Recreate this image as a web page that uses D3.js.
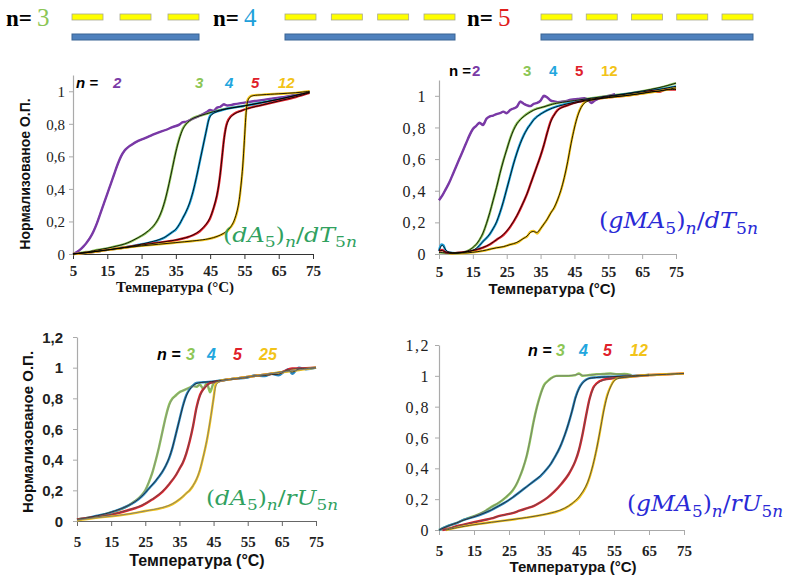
<!DOCTYPE html>
<html><head><meta charset="utf-8">
<script src="https://cdn.jsdelivr.net/npm/d3@7"></script>
<style>body{margin:0;background:#fff}svg{display:block}</style>
</head><body>
<svg id="c" width="786" height="576"></svg>
<script>
// ---------- DATA ----------
const xTicks = [5, 15, 25, 35, 45, 55, 65, 75];
const yTicksA = [0, 0.2, 0.4, 0.6, 0.8, 1];
const yTicksB = [0, 0.2, 0.4, 0.6, 0.8, 1, 1.2];
const headerCounts = [3, 4, 5];

// Panel 1: (dA5)n/dT5n
const p1_n2 = [[5,0],[6,0.01],[7,0.025],[8,0.045],[9,0.07],[10,0.1],[11,0.14],[12,0.19],[13,0.25],[14,0.31],[15,0.37],[16,0.43],[17,0.49],[18,0.55],[19,0.6],[20,0.635],[21,0.655],[22,0.67],[24,0.695],[26,0.712],[28,0.73],[30,0.748],[32,0.762],[34,0.78],[36,0.795],[37,0.81],[38,0.812],[40,0.832],[42,0.85],[44,0.872],[45,0.885],[46,0.878],[47,0.9],[48,0.905],[49,0.92],[50,0.912],[52,0.92],[55,0.93],[58,0.94],[60,0.945],[63,0.955],[65,0.96],[68,0.97],[70,0.978],[73,0.99]];
const p1_n3 = [[5,0],[8,0.01],[10,0.015],[12,0.025],[15,0.035],[18,0.05],[20,0.06],[22,0.078],[24,0.1],[26,0.125],[28,0.16],[29,0.185],[30,0.22],[31,0.27],[32,0.34],[33,0.43],[34,0.53],[35,0.63],[36,0.71],[37,0.77],[38,0.8],[39,0.82],[40,0.835],[42,0.85],[44,0.862],[46,0.875],[48,0.885],[50,0.895],[55,0.91],[60,0.93],[65,0.95],[70,0.975],[74,0.995]];
const p1_n4 = [[5,0],[10,0.01],[15,0.025],[20,0.04],[25,0.06],[30,0.085],[32,0.105],[33,0.12],[34,0.135],[35,0.15],[36,0.18],[37,0.22],[38,0.26],[39,0.31],[40,0.38],[41,0.47],[42,0.57],[43,0.67],[44,0.77],[44.5,0.82],[45,0.85],[46,0.868],[48,0.882],[50,0.893],[55,0.91],[60,0.93],[65,0.95],[70,0.975],[74,0.995]];
const p1_n5 = [[5,0],[10,0.01],[15,0.025],[20,0.04],[25,0.055],[30,0.07],[35,0.085],[38,0.1],[40,0.115],[42,0.14],[44,0.185],[45,0.22],[46,0.28],[47,0.36],[47.5,0.42],[48,0.5],[48.5,0.6],[49,0.7],[49.5,0.77],[50,0.81],[51,0.845],[52,0.862],[54,0.88],[56,0.895],[60,0.915],[65,0.94],[70,0.965],[74,0.99]];
const p1_n12 = [[5,0],[10,0.01],[15,0.025],[20,0.038],[25,0.05],[30,0.06],[35,0.07],[40,0.08],[44,0.09],[46,0.1],[48,0.115],[50,0.14],[51,0.165],[52,0.2],[53,0.27],[53.5,0.33],[54,0.42],[54.5,0.53],[55,0.7],[55.4,0.85],[55.8,0.94],[56.5,0.965],[57.5,0.975],[60,0.978],[65,0.985],[70,0.99],[74,1.0]];

// Panel 2: (gMA5)n/dT5n
const p2_n2 = [[5,0.34],[6,0.37],[7,0.41],[8,0.45],[9,0.5],[10,0.55],[11,0.6],[12,0.65],[13,0.7],[14,0.75],[15,0.79],[16,0.81],[17,0.83],[18,0.815],[19,0.855],[20,0.87],[21,0.875],[22,0.885],[23,0.89],[24,0.9],[25,0.89],[26,0.91],[27,0.92],[28,0.93],[29,0.965],[30,0.95],[31,0.94],[32,0.935],[33,0.95],[34,0.955],[35,0.97],[36,1.0],[37,0.99],[38,0.97],[39,0.965],[40,0.96],[42,0.965],[44,0.975],[46,0.98],[48,0.985],[49,0.975],[50,0.955],[51,0.97],[53,0.99],[55,1.0],[57,1.01]];
const p2_n3 = [[5,0.01],[8,0.005],[10,0.005],[12,0.01],[13,0.015],[14,0.025],[15,0.04],[16,0.06],[17,0.09],[18,0.13],[19,0.19],[20,0.26],[21,0.34],[22,0.42],[23,0.51],[24,0.59],[25,0.66],[26,0.73],[27,0.785],[28,0.825],[29,0.85],[30,0.87],[32,0.9],[34,0.92],[36,0.93],[38,0.945],[40,0.955],[45,0.97],[50,0.985],[55,1.0],[60,1.012],[65,1.03],[70,1.05],[75,1.08]];
const p2_n4 = [[5,0.02],[5.7,0.06],[6.3,0.055],[7,0.02],[8,0.01],[10,0.005],[12,0.01],[14,0.015],[16,0.03],[18,0.08],[19,0.1],[20,0.125],[21,0.16],[22,0.2],[23,0.26],[24,0.33],[25,0.41],[26,0.49],[27,0.57],[28,0.64],[29,0.7],[30,0.75],[31,0.79],[32,0.82],[33,0.85],[34,0.87],[35,0.885],[37,0.91],[40,0.935],[45,0.96],[50,0.98],[55,0.995],[60,1.01],[65,1.025],[70,1.04],[75,1.06]];
const p2_n5 = [[5,0.02],[6,0.025],[7,0.01],[9,0.005],[12,0.01],[15,0.02],[18,0.04],[20,0.06],[22,0.09],[24,0.12],[26,0.17],[28,0.24],[30,0.33],[31,0.38],[32,0.44],[33,0.5],[34,0.56],[35,0.62],[36,0.69],[37,0.77],[38,0.84],[39,0.88],[40,0.91],[41,0.925],[43,0.94],[45,0.955],[50,0.975],[55,0.99],[60,1.0],[65,1.015],[68,1.03],[70,1.025],[72,1.04],[75,1.04]];
const p2_n12 = [[8,0.005],[12,0.005],[15,0.01],[18,0.02],[20,0.03],[22,0.04],[24,0.045],[26,0.06],[28,0.07],[30,0.1],[31,0.11],[32,0.14],[33,0.145],[34,0.13],[35,0.16],[36,0.19],[37,0.22],[38,0.26],[39,0.29],[40,0.34],[41,0.4],[42,0.48],[43,0.58],[44,0.7],[45,0.8],[46,0.88],[47,0.93],[48,0.96],[50,0.975],[55,0.99],[60,1.0],[65,1.015],[70,1.03],[75,1.05]];

// Panel 3: (dA5)n/rU5n
const p3_n3 = [[5,0.01],[8,0.02],[11,0.03],[14,0.05],[17,0.07],[20,0.1],[22,0.13],[24,0.17],[25,0.2],[26,0.25],[27,0.31],[28,0.39],[29,0.48],[30,0.58],[31,0.68],[32,0.76],[33,0.8],[34,0.82],[35,0.84],[36,0.85],[37,0.86],[38,0.87],[39,0.88],[40,0.875],[41,0.89],[42,0.86],[43,0.9],[44,0.84],[45,0.9],[46,0.91],[50,0.925],[55,0.94],[60,0.955],[65,0.97],[70,0.99],[75,1.0]];
const p3_n4 = [[5,0.01],[8,0.02],[11,0.035],[14,0.05],[16,0.065],[18,0.08],[20,0.1],[22,0.125],[24,0.16],[26,0.21],[28,0.26],[30,0.32],[31,0.36],[32,0.41],[33,0.48],[34,0.57],[35,0.66],[36,0.75],[37,0.82],[38,0.86],[39,0.885],[40,0.9],[42,0.905],[45,0.91],[50,0.925],[55,0.935],[57,0.95],[60,0.945],[62,0.96],[64,0.95],[66,0.98],[67,0.99],[68,0.96],[70,1.0],[72,0.99],[75,1.0]];
const p3_n5 = [[5,0.01],[10,0.025],[15,0.04],[20,0.07],[24,0.1],[27,0.14],[30,0.19],[32,0.24],[34,0.3],[35,0.34],[36,0.38],[37,0.44],[38,0.52],[39,0.62],[40,0.74],[41,0.82],[42,0.86],[43,0.885],[44,0.9],[46,0.91],[50,0.925],[55,0.94],[60,0.955],[65,0.97],[68,0.995],[70,0.995],[75,1.0]];
const p3_n25 = [[5,0.005],[10,0.02],[15,0.03],[20,0.045],[25,0.065],[30,0.085],[33,0.11],[35,0.14],[37,0.18],[38,0.2],[39,0.23],[40,0.27],[41,0.33],[42,0.42],[43,0.52],[44,0.65],[45,0.8],[45.6,0.89],[46.5,0.91],[50,0.925],[55,0.94],[60,0.955],[65,0.97],[70,0.985],[75,1.0]];

// Panel 4: (gMA5)n/rU5n
const p4_n3 = [[5,0.0],[7,0.02],[10,0.045],[12,0.065],[15,0.09],[18,0.12],[20,0.15],[22,0.175],[24,0.21],[26,0.255],[27,0.29],[28,0.34],[29,0.4],[30,0.475],[31,0.58],[32,0.7],[33,0.8],[34,0.88],[35,0.94],[36,0.965],[37,0.985],[38.5,1.0],[40,1.0],[42,1.0],[44,1.005],[45,1.015],[46,1.0],[48,1.005],[50,1.01],[52,1.012],[54,1.015],[56,1.01],[58,1.012],[60,1.005]];
const p4_n4 = [[5,0.0],[6,0.01],[8,0.03],[10,0.045],[12,0.065],[15,0.085],[18,0.11],[20,0.13],[22,0.155],[24,0.18],[26,0.21],[28,0.245],[30,0.28],[32,0.315],[34,0.35],[36,0.4],[37,0.43],[38,0.47],[39,0.51],[40,0.56],[41,0.62],[42,0.69],[43,0.77],[44,0.86],[45,0.92],[46,0.955],[47,0.975],[48,0.985],[50,0.99],[55,0.995],[60,1.0],[65,1.005]];
const p4_n5 = [[6,0.0],[8,0.01],[10,0.025],[12,0.035],[15,0.05],[18,0.065],[20,0.075],[22,0.09],[24,0.1],[26,0.11],[28,0.125],[30,0.14],[32,0.155],[34,0.18],[36,0.21],[38,0.25],[40,0.3],[42,0.36],[43,0.4],[44,0.45],[45,0.52],[46,0.62],[47,0.74],[48,0.85],[49,0.92],[50,0.95],[52,0.975],[55,0.985],[60,0.995],[65,1.005],[70,1.01],[75,1.015]];
const p4_n12 = [[7,0.0],[10,0.015],[15,0.035],[20,0.05],[25,0.065],[30,0.08],[35,0.1],[38,0.115],[41,0.14],[43,0.17],[45,0.21],[47,0.28],[48,0.34],[49,0.42],[50,0.52],[51,0.64],[52,0.77],[53,0.87],[54,0.93],[55,0.97],[56,0.985],[60,0.995],[65,1.005],[70,1.01],[75,1.015]];

// ---------- STYLE / LAYOUT ----------
const C = {purple:"#7a3aa6", green:"#8cc655", cyan:"#22a6de", teal:"#2a86c0", red:"#e0202a", gold:"#f2c318"};
const mathGreen = "#31a160", mathBlue = "#2a2ad6";
const SERIF = "'Liberation Serif','Times New Roman',serif";
const SANS = "'Liberation Sans',Arial,sans-serif";
const MATH = "'DejaVu Serif',serif";

const svg = d3.select("#c");

// ---------- HEADER ----------
const headerColors = [C.green, "#1ea0da", "#e0201b"];
const groups = [
  {tx:6, x0:72, x1:199},
  {tx:213, x0:285, x1:455},
  {tx:467, x0:541, x1:753}
];
headerCounts.forEach((n,i)=>{
  const g = groups[i];
  const t = svg.append("text").attr("x",g.tx).attr("y",26).attr("font-family",SERIF);
  t.append("tspan").attr("font-weight","bold").attr("font-size",23).attr("fill","#000").text("n=");
  t.append("tspan").attr("dx",5).attr("font-size",25).attr("fill",headerColors[i]).text(n);
  const dw = 31;
  const xs = d3.scaleLinear().domain([0,n-1]).range([g.x0, g.x1-dw]);
  d3.range(n).forEach(k=>{
    svg.append("rect").attr("x",xs(k)).attr("y",14).attr("width",dw).attr("height",6)
      .attr("fill","#ffff00").attr("stroke","#a8a890").attr("stroke-width",0.8);
  });
  svg.append("rect").attr("x",g.x0).attr("y",34).attr("width",g.x1-g.x0).attr("height",6)
    .attr("fill","#4f81bd").attr("stroke","#3a6594").attr("stroke-width",1);
});

// ---------- PANELS ----------
function mathLabel(x, y, segs, color, size, len){
  const t = svg.append("text").attr("x",x).attr("y",y).attr("font-family",MATH)
    .attr("font-size",size).attr("fill",color);
  if(len) t.attr("textLength",len).attr("lengthAdjust","spacingAndGlyphs");
  let sub=false;
  segs.forEach(s=>{
    const ts = t.append("tspan").text(s.t);
    if(s.i) ts.attr("font-style","italic");
    if(s.sub && !sub){ ts.attr("dy",size*0.25); sub=true; }
    else if(!s.sub && sub){ ts.attr("dy",-size*0.25); sub=false; }
    if(s.sub) ts.attr("font-size",size*0.72);
  });
}
const segs = (a,b)=>{
  const out=[{t:"("}];
  a.split("").forEach(ch=>out.push({t:ch,i:true}));
  out.push({t:"5",sub:true},{t:")"},{t:"n",i:true,sub:true},{t:"/"});
  b.split("").forEach(ch=>out.push({t:ch,i:true}));
  out.push({t:"5",sub:true},{t:"n",i:true,sub:true});
  return out;
};

const panels = [
  {x0:73,x1:313,y0:254,y1:75,ymax:1.1,yt:yTicksA,
   series:[[p1_n2,C.purple,C.purple],[p1_n3,C.green,"#000"],[p1_n4,C.cyan,"#000"],[p1_n5,C.red,"#000"],[p1_n12,C.gold,"#000"]],
   xAxisColor:"#333", xTickFont:{f:SERIF,w:"bold",s:15}, xTickY:22, yTickFont:{f:SERIF,w:"normal",s:15,ls:0}, yTickGap:8,
   ytitle:{x:25,y:174,s:14}, xtitle:{x:175,y:292,f:SERIF,s:15},
   legend:{y:88,italic:true,s:15,items:[["n =",76,"#000"],["2",113,C.purple],["3",195,C.green],["4",225,C.cyan],["5",251,C.red],["12",278,C.gold]]},
   math:{x:223,y:242,a:"dA",b:"dT",c:mathGreen,s:21,len:134}},
  {x0:439,x1:676,y0:254,y1:80,ymax:1.1,yt:yTicksA,
   series:[[p2_n2,C.purple,C.purple],[p2_n3,C.green,"#000"],[p2_n4,C.cyan,"#000"],[p2_n5,C.red,"#000"],[p2_n12,C.gold,"#000"]],
   xAxisColor:"#aaa", xTickFont:{f:SERIF,w:"bold",s:15}, xTickY:23, yTickFont:{f:SERIF,w:"normal",s:16,ls:1.5}, yTickGap:12,
   ytitle:null, xtitle:{x:552,y:294,f:SANS,s:15},
   legend:{y:76,italic:false,s:15,items:[["n =",449,"#000"],["2",472,C.purple],["3",523,C.green],["4",549,C.cyan],["5",575,C.red],["12",601,C.gold]]},
   math:{x:599,y:228,a:"gMA",b:"dT",c:mathBlue,s:22,len:159}},
  {x0:77,x1:316,y0:521,y1:337,ymax:1.2,yt:yTicksB,
   series:[[p3_n3,C.green,"#888"],[p3_n4,C.teal,"#222"],[p3_n5,C.red,"#555"],[p3_n25,C.gold,"#777"]],
   xAxisColor:"#666", xTickFont:{f:SERIF,w:"bold",s:15}, xTickY:26, yTickFont:{f:SANS,w:"bold",s:15,ls:0}, yTickGap:14,
   ytitle:{x:28,y:432,s:15}, xtitle:{x:197,y:566,f:SANS,s:16},
   legend:{y:360,italic:true,s:16,items:[["n =",157,"#000"],["3",186,C.green],["4",207,C.cyan],["5",233,C.red],["25",259,C.gold]]},
   math:{x:206,y:505,a:"dA",b:"rU",c:mathGreen,s:21,len:132}},
  {x0:439,x1:684,y0:530,y1:345,ymax:1.2,yt:yTicksB,
   series:[[p4_n3,C.green,"#777"],[p4_n4,C.teal,"#222"],[p4_n5,C.red,"#555"],[p4_n12,C.gold,"#444"]],
   xAxisColor:"#aaa", xTickFont:{f:SERIF,w:"bold",s:15}, xTickY:26, yTickFont:{f:SERIF,w:"normal",s:16,ls:1.5}, yTickGap:9,
   ytitle:null, xtitle:{x:573,y:572,f:SANS,s:15},
   legend:{y:356,italic:true,s:16,items:[["n =",528,"#000"],["3",556,C.green],["4",579,C.cyan],["5",603,C.red],["12",630,C.gold]]},
   math:{x:627,y:511,a:"gMA",b:"rU",c:mathBlue,s:22,len:156}}
];

panels.forEach(p=>{
  const x = d3.scaleLinear().domain([5,75]).range([p.x0,p.x1]);
  const y = d3.scaleLinear().domain([0,p.ymax]).range([p.y0,p.y1]);

  // axes
  const gx = svg.append("g").attr("transform",`translate(0,${p.y0})`)
    .call(d3.axisBottom(x).tickValues(xTicks).tickSize(5).tickSizeOuter(0).tickFormat(d=>d));
  gx.select(".domain").attr("stroke",p.xAxisColor).attr("stroke-width",1.2);
  gx.selectAll(".tick line").attr("stroke",p.xAxisColor);
  gx.selectAll(".tick text").attr("dy",null).attr("y",p.xTickY)
    .attr("font-family",p.xTickFont.f).attr("font-weight",p.xTickFont.w).attr("font-size",p.xTickFont.s).attr("fill","#222");

  const gy = svg.append("g").attr("transform",`translate(${p.x0},0)`)
    .call(d3.axisLeft(y).tickValues(p.yt).tickSize(4).tickSizeOuter(0).tickFormat(d=>String(d).replace(".",",")));
  gy.select(".domain").attr("stroke","#aaa").attr("stroke-width",1.2);
  gy.selectAll(".tick line").attr("stroke","#aaa");
  gy.selectAll(".tick text").attr("x",-p.yTickGap).attr("dy","0.35em")
    .attr("font-family",p.yTickFont.f).attr("font-weight",p.yTickFont.w).attr("font-size",p.yTickFont.s)
    .attr("letter-spacing",p.yTickFont.ls).attr("fill","#222");

  // curves
  const lineData = d3.line().x(d=>x(d[0])).y(d=>y(d[1])).curve(d3.curveMonotoneX);
  const lineFit = d3.line().x(d=>x(d[0])).y(d=>y(d[1])).curve(d3.curveBasis);
  p.series.forEach(s=>{
    svg.append("path").datum(s[0]).attr("d",lineData).attr("fill","none")
      .attr("stroke",s[1]).attr("stroke-width",2.4).attr("stroke-linejoin","round");
  });
  p.series.forEach(s=>{
    const isP = s[2]===C.purple;
    svg.append("path").datum(s[0]).attr("d",lineFit).attr("fill","none")
      .attr("stroke",s[2]).attr("stroke-width",isP?1.4:0.9).attr("opacity",isP?0.75:0.95);
  });

  // titles
  if(p.ytitle){
    svg.append("text").attr("transform",`translate(${p.ytitle.x},${p.ytitle.y}) rotate(-90)`)
      .attr("text-anchor","middle").attr("dy","0.35em").attr("font-family",SANS).attr("font-weight","bold")
      .attr("font-size",p.ytitle.s).attr("fill","#111").text("Нормализованое О.П.");
  }
  svg.append("text").attr("x",p.xtitle.x).attr("y",p.xtitle.y).attr("text-anchor","middle")
    .attr("font-family",p.xtitle.f).attr("font-weight","bold").attr("font-size",p.xtitle.s)
    .attr("fill","#111").text("Температура (°C)");

  // legend
  p.legend.items.forEach(it=>{
    svg.append("text").attr("x",it[1]).attr("y",p.legend.y).attr("font-family",SANS)
      .attr("font-weight","bold").attr("font-style",p.legend.italic?"italic":"normal")
      .attr("font-size",p.legend.s).attr("fill",it[2]).text(it[0]);
  });

  // math label
  mathLabel(p.math.x,p.math.y,segs(p.math.a,p.math.b),p.math.c,p.math.s,p.math.len);
});
</script>
</body></html>
